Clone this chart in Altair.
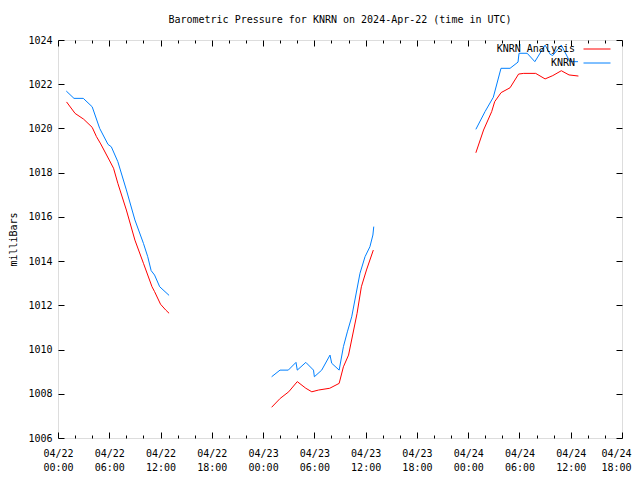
import altair as alt
import pandas as pd

# Hours since 2024-04-22 00:00 UTC, pressure in millibars
ana_h1 = [1, 2, 3, 4, 4.5, 5, 6, 6.5, 7, 8, 9, 10, 11, 11.3, 12, 12.6, 13]
ana_v1 = [1021.2, 1020.68, 1020.42, 1020.05, 1019.63, 1019.3, 1018.57, 1018.2, 1017.52,
          1016.31, 1014.95, 1013.9, 1012.84, 1012.62, 1012.05, 1011.79, 1011.64]
ana_h2 = [25, 26, 27, 28, 29, 29.7, 30.5, 31.8, 32.9, 33.4, 34, 35, 35.5, 36.1, 36.9]
ana_v2 = [1007.39, 1007.79, 1008.09, 1008.55, 1008.25, 1008.09, 1008.17, 1008.25, 1008.47,
          1009.22, 1009.75, 1011.64, 1012.84, 1013.6, 1014.5]
ana_h3 = [48.9, 49.8, 50.75, 51.1, 51.85, 52.9, 53.9, 54.5, 55.9, 57, 57.9, 58.9, 59.8, 60.9]
ana_v3 = [1018.9, 1019.93, 1020.76, 1021.21, 1021.62, 1021.84, 1022.46, 1022.49, 1022.49,
          1022.24, 1022.39, 1022.61, 1022.42, 1022.37]

obs_h1 = [0.97, 1.87, 2.96, 4.0, 4.88, 5.85, 6.24, 7.0, 8.0, 9.0, 10.0, 10.5, 10.9, 11.3, 11.9, 13.0]
obs_v1 = [1021.69, 1021.36, 1021.36, 1020.98, 1020.0, 1019.28, 1019.17, 1018.5, 1017.22,
          1015.86, 1014.8, 1014.2, 1013.57, 1013.37, 1012.84, 1012.45]
obs_h2 = [25.0, 25.98, 26.95, 27.85, 28.0, 29.0, 29.9, 30.0, 30.86, 31.83, 32.03, 32.9, 33.4,
          33.86, 34.37, 35.34, 35.93, 36.5, 36.85, 36.95]
obs_v2 = [1008.77, 1009.07, 1009.07, 1009.42, 1009.07, 1009.42, 1009.07, 1008.77, 1009.07,
          1009.75, 1009.38, 1009.07, 1010.13, 1010.8, 1011.48, 1013.45, 1014.2, 1014.65,
          1015.18, 1015.56]
obs_h3 = [48.9, 49.97, 50.94, 51.84, 52.9, 53.83, 53.95, 54.9, 55.8, 57.0, 57.6, 57.9, 58.9,
          59.9, 60.85]
obs_v3 = [1019.96, 1020.76, 1021.41, 1022.72, 1022.72, 1023.0, 1023.4, 1023.4, 1023.02,
          1023.77, 1023.35, 1023.3, 1023.77, 1023.02, 1023.02]

series_names = ["KNRN Analysis", "KNRN"]
series_colors = ["#ff0000", "#0080ff"]
x_ticks = list(range(0, 67, 2))
y_ticks = list(range(1006, 1025, 2))

rows = []
for name, segs in [
    ("KNRN Analysis", [(ana_h1, ana_v1), (ana_h2, ana_v2), (ana_h3, ana_v3)]),
    ("KNRN", [(obs_h1, obs_v1), (obs_h2, obs_v2), (obs_h3, obs_v3)]),
]:
    for i, (hs, vs) in enumerate(segs):
        for h, v in zip(hs, vs):
            rows.append({"series": name, "seg": f"{name}-{i}", "hour": h, "mb": v})
df = pd.DataFrame(rows)

FONT = "DejaVu Sans Mono"
label_expr = ("datum.value % 6 === 0 ? ['04/' + (22 + floor(datum.value / 24)), "
              "(datum.value % 24 < 10 ? '0' : '') + (datum.value % 24) + ':00'] : ''")
tick_size = {"condition": {"test": "datum.value % 6 === 0", "value": -6}, "value": -3}
last_align = {"condition": {"test": "datum.value === 66", "value": "right"}, "value": "center"}
last_offset = {"condition": {"test": "datum.value === 66", "value": 9}, "value": 0}

xscale = alt.Scale(domain=[0, 66], nice=False, zero=False)
yscale = alt.Scale(domain=[1006, 1024], nice=False, zero=False)

color = alt.Color("series:N", sort=series_names,
                  scale=alt.Scale(domain=series_names, range=series_colors),
                  legend=alt.Legend(title=None, orient="none", legendX=534, legendY=4,
                                    symbolType="M-3,0H3", symbolSize=81, symbolStrokeWidth=1,
                                    labelAlign="right", labelOffset={"expr": "-27"}, padding=0,
                                    labelFont=FONT, labelFontSize=10, labelColor="black",
                                    rowPadding=4))

base = alt.Chart(df)

main = base.mark_line(strokeWidth=1).encode(
    x=alt.X("hour:Q", scale=xscale,
            axis=alt.Axis(orient="bottom", values=x_ticks, labelExpr=label_expr, title=None,
                          grid=False, domain=False, tickSize=tick_size, tickColor="black",
                          labelPadding=16, labelAngle=0, labelFont=FONT, labelFontSize=10,
                          labelColor="black", labelLineHeight=14, labelBaseline="top",
                          labelAlign=last_align, labelOffset=last_offset,
                          labelFlush=False, labelOverlap=False, labelBound=False)),
    y=alt.Y("mb:Q", scale=yscale,
            axis=alt.Axis(orient="left", values=y_ticks, title="milliBars", grid=False,
                          format="d", domain=False, tickSize={"expr": "-6"}, tickColor="black",
                          labelPadding=12, labelFont=FONT, labelFontSize=10, labelColor="black",
                          labelFlush=False, labelOverlap=False,
                          titleFont=FONT, titleFontSize=10, titleFontWeight="normal",
                          titleColor="black", titlePadding=9)),
    color=color,
    detail="seg:N",
)

mirror = base.mark_line(strokeWidth=1, opacity=0).encode(
    x=alt.X("hour:Q", scale=xscale,
            axis=alt.Axis(orient="top", values=x_ticks, labels=False, title=None, grid=False,
                          domain=False, tickSize=tick_size, tickColor="black")),
    y=alt.Y("mb:Q", scale=yscale,
            axis=alt.Axis(orient="right", values=y_ticks, labels=False, title=None, grid=False,
                          domain=False, tickSize={"expr": "-6"}, tickColor="black")),
    detail="seg:N",
)

chart = alt.layer(main, mirror).resolve_axis(x="independent", y="independent").properties(
    width=564, height=398,
    autosize=alt.AutoSizeParams(type="none"),
    padding={"left": 50, "top": 32, "right": 10, "bottom": 34},
    title=alt.Title("Barometric Pressure for KNRN on 2024-Apr-22 (time in UTC)",
                    font=FONT, fontSize=10, fontWeight="normal", color="black",
                    anchor="middle", offset=10),
).configure_view(stroke="black", strokeWidth=1).configure(background="white")

chart.save("out.html", embed_options={"renderer": "svg", "actions": False})
